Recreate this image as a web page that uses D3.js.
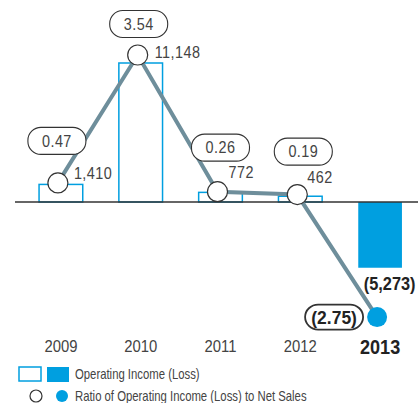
<!DOCTYPE html>
<html>
<head>
<meta charset="utf-8">
<script src="https://cdn.jsdelivr.net/npm/d3@7"></script>
<style>
  body { margin: 0; background: #fff; }
  svg { display: block; font-family: "Liberation Sans", Arial, sans-serif; }
</style>
</head>
<body>
<div id="chart"></div>
<script>
let years = ['2009', '2010', '2011', '2012', '2013'];
let income = [1410, 11148, 772, 462, -5273];
let incomeLabels = ['1,410', '11,148', '772', '462', '(5,273)'];
let ratio = [0.47, 3.54, 0.26, 0.19, -2.75];
let ratioLabels = ['0.47', '3.54', '0.26', '0.19', '(2.75)'];
let legendLabels = ['Operating Income (Loss)', 'Ratio of Operating Income (Loss) to Net Sales'];

// label placement (layout only)
let pillOffset = [[-1, -42], [1, -31], [3, -44], [6, -43], [-43, 0]];
let valueOffset = [[16, -10], [17, -3], [11, -19], [10, -17], [-12, 15]];

var width = 418,
    height = 403,
    blue = '#009fe0',
    lineColor = '#6e8e9b',
    textColor = '#444',
    boldColor = '#222';

var svg = d3.select('#chart').append('svg')
    .attr('width', width)
    .attr('height', height);

var x = d3.scaleBand().domain(years).range([21, 420]).paddingInner(0.44).paddingOuter(0.22);
var y = d3.scaleLinear().domain([0, 11148]).range([202, 63]);
var y2 = d3.scaleLinear().domain([0, 3.54]).range([202.5, 55]);

var last = years.length - 1;

// condensed look: squeeze Liberation Sans horizontally
function label(sel, px, py, str, opts) {
    return sel.append('text')
        .attr('transform', `translate(${px},${py}) scale(${opts.sx || 0.9},1)`)
        .attr('dy', '0.36em')
        .attr('text-anchor', opts.anchor || 'start')
        .attr('font-size', opts.size)
        .attr('font-weight', opts.bold ? 'bold' : 'normal')
        .attr('letter-spacing', opts.ls || 0)
        .attr('fill', opts.bold ? boldColor : textColor)
        .text(str);
}

// bars
svg.selectAll('rect.bar')
    .data(income)
    .enter().append('rect')
    .attr('class', 'bar')
    .attr('x', (d, i) => x(years[i]) + 0.5)
    .attr('y', d => Math.min(y(d), y(0)))
    .attr('width', x.bandwidth() - 1)
    .attr('height', d => Math.abs(y(d) - y(0)))
    .attr('fill', (d, i) => i === last ? blue : '#fff')
    .attr('stroke', (d, i) => i === last ? 'none' : blue)
    .attr('stroke-width', 1.5);

// baseline
svg.append('line')
    .attr('x1', 15).attr('x2', width)
    .attr('y1', y(0)).attr('y2', y(0))
    .attr('stroke', '#333').attr('stroke-width', 1.3);

var cx = (d, i) => x(years[i]) + x.bandwidth() / 2 - 3;

// ratio line
var line = d3.line()
    .x((d, i) => cx(d, i))
    .y(d => y2(d));

svg.append('path')
    .datum(ratio)
    .attr('d', line)
    .attr('fill', 'none')
    .attr('stroke', lineColor)
    .attr('stroke-width', 4);

svg.selectAll('circle.pt')
    .data(ratio)
    .enter().append('circle')
    .attr('class', 'pt')
    .attr('cx', cx)
    .attr('cy', d => y2(d))
    .attr('r', 10)
    .attr('fill', (d, i) => i === last ? blue : '#fff')
    .attr('stroke', (d, i) => i === last ? 'none' : '#333')
    .attr('stroke-width', 1.2);

// ratio pills
ratio.forEach(function(d, i) {
    var px = cx(d, i) + pillOffset[i][0],
        py = y2(d) + pillOffset[i][1],
        neg = d < 0;
    svg.append('rect')
        .attr('x', px - 29).attr('y', py - (neg ? 12.5 : 13.5))
        .attr('width', 58).attr('height', neg ? 25 : 27)
        .attr('rx', 13)
        .attr('fill', '#fff')
        .attr('stroke', '#333')
        .attr('stroke-width', neg ? 1.8 : 1.1);
    label(svg, px, py, ratioLabels[i], neg
        ? { anchor: 'middle', size: 19, bold: true, sx: 0.92 }
        : { anchor: 'middle', size: 16, sx: 0.9, ls: 0.5 });
});

// value labels
income.forEach(function(d, i) {
    if (d < 0) {
        label(svg, x(years[i]) + 6, y(d) + valueOffset[i][1], incomeLabels[i], { size: 19, bold: true, sx: 0.86 });
    } else {
        label(svg, cx(d, i) + valueOffset[i][0], y2(ratio[i]) + valueOffset[i][1], incomeLabels[i], { size: 16, sx: 0.9, ls: 0.5 });
    }
});

// x axis labels
years.forEach(function(d, i) {
    label(svg, x(d) + x.bandwidth() / 2, 346, d, i === last
        ? { anchor: 'middle', size: 21, bold: true, sx: 0.86 }
        : { anchor: 'middle', size: 16.5, sx: 0.9 });
});

// legend
var lg = svg.append('g');
lg.append('rect').attr('x', 19).attr('y', 367).attr('width', 22).attr('height', 14)
    .attr('fill', '#fff').attr('stroke', blue).attr('stroke-width', 1.5);
lg.append('rect').attr('x', 47).attr('y', 367).attr('width', 22).attr('height', 15)
    .attr('fill', blue);
lg.append('circle').attr('cx', 36).attr('cy', 396).attr('r', 6)
    .attr('fill', '#fff').attr('stroke', '#333').attr('stroke-width', 1.2);
lg.append('circle').attr('cx', 62).attr('cy', 396).attr('r', 6)
    .attr('fill', blue);
legendLabels.forEach(function(d, i) {
    label(lg, 75, 374 + i * 22, d, { size: 14, sx: 0.81 });
});
</script>
</body>
</html>
